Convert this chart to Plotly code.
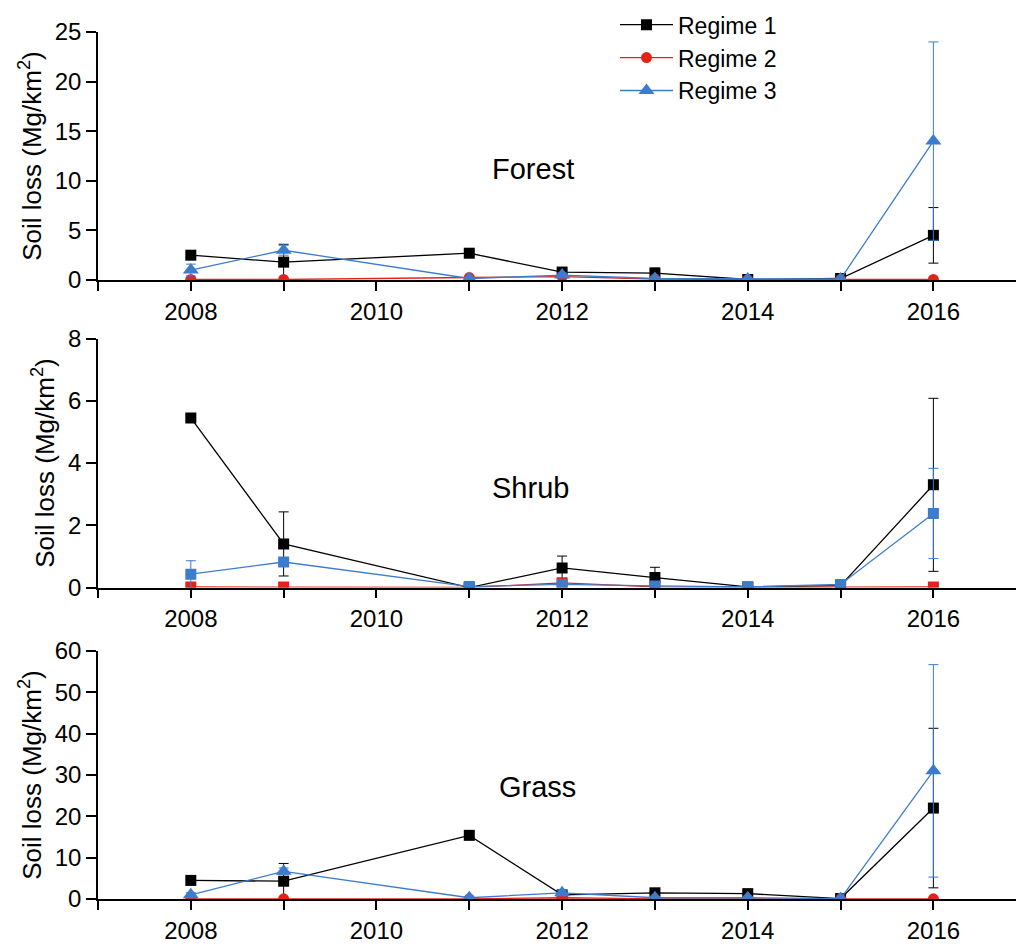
import plotly.graph_objects as go

years = [2008, 2009, 2011, 2012, 2013, 2014, 2015, 2016]
series_names = ["Regime 1", "Regime 2", "Regime 3"]

# Forest
forest_r1 = [2.5, 1.8, 2.7, 0.8, 0.7, 0.05, 0.15, 4.5]
forest_r1_err = [0.2, 1.8, 0.2, 0.15, 0.5, 0.05, 0.1, 2.8]
forest_r2 = [0.05, 0.05, 0.25, 0.35, 0.1, 0.03, 0.05, 0.05]
forest_r2_err = [0, 0, 0, 0, 0, 0, 0, 0]
forest_r3 = [1.0, 3.0, 0.15, 0.5, 0.15, 0.1, 0.1, 14.0]
forest_r3_err = [0.6, 0.5, 0.1, 0.2, 0.1, 0.05, 0.1, 10.0]

# Shrub
shrub_r1 = [5.45, 1.4, 0.0, 0.63, 0.32, 0.02, 0.06, 3.3]
shrub_r1_err = [0.08, 1.03, 0.0, 0.38, 0.33, 0.0, 0.03, 2.78]
shrub_r2 = [0.02, 0.02, 0.0, 0.15, 0.02, 0.0, 0.0, 0.02]
shrub_r2_err = [0, 0, 0, 0, 0, 0, 0, 0]
shrub_r3 = [0.43, 0.82, 0.03, 0.1, 0.05, 0.02, 0.1, 2.38]
shrub_r3_err = [0.43, 0.1, 0.0, 0.05, 0.0, 0.0, 0.0, 1.45]

# Grass
grass_r1 = [4.5, 4.3, 15.4, 1.0, 1.5, 1.3, 0.1, 22.0]
grass_r1_err = [0.3, 4.3, 0.3, 0.5, 0.3, 0.3, 0.1, 19.3]
grass_r2 = [0.05, 0.05, 0.05, 0.3, 0.05, 0.05, 0.05, 0.05]
grass_r2_err = [0, 0, 0, 0, 0, 0, 0, 0]
grass_r3 = [1.0, 6.7, 0.3, 1.5, 0.3, 0.3, 0.1, 31.0]
grass_r3_err = [0.5, 0.8, 0.2, 0.5, 0.2, 0.2, 0.1, 25.7]

panel_names = ["Forest", "Shrub", "Grass"]
y_ranges = [[0, 25], [0, 8], [0, 60]]
y_ticks = [[0, 5, 10, 15, 20, 25], [0, 2, 4, 6, 8], [0, 10, 20, 30, 40, 50, 60]]
x_tick_vals = [2008, 2010, 2012, 2014, 2016]
x_tick_text = ["2008", "2010", "2012", "2014", "2016"]

colors = ["#000000", "#e3231b", "#3c7ccc"]
FONT = "Liberation Sans, Arial, sans-serif"

panels = [
    [(forest_r1, forest_r1_err), (forest_r2, forest_r2_err), (forest_r3, forest_r3_err)],
    [(shrub_r1, shrub_r1_err), (shrub_r2, shrub_r2_err), (shrub_r3, shrub_r3_err)],
    [(grass_r1, grass_r1_err), (grass_r2, grass_r2_err), (grass_r3, grass_r3_err)],
]
symbols_by_panel = [
    ["square", "circle", "triangle-up"],
    ["square", "square", "square"],
    ["square", "circle", "triangle-up"],
]
sizes = {"square": 11, "circle": 11, "triangle-up": 14}

fig = go.Figure()
for p, panel in enumerate(panels):
    ax = "" if p == 0 else str(p + 1)
    for s, (vals, errs) in enumerate(panel):
        sym = symbols_by_panel[p][s]
        fig.add_trace(go.Scatter(
            x=years, y=vals,
            mode="lines+markers",
            name=series_names[s],
            showlegend=(p == 0),
            line=dict(color=colors[s], width=1.3),
            marker=dict(symbol=sym, size=sizes[sym], color=colors[s]),
            error_y=dict(type="data", array=errs, visible=True,
                         color=colors[s], thickness=1, width=5),
            xaxis="x" + ax, yaxis="y" + ax,
        ))

# layout geometry
H, W = 944, 1016
t, b = 32, 38
ph = H - t - b
def frac(px):
    return (H - b - px) / ph

domains = [[frac(282), 1.0], [frac(592), frac(341)], [0.0, frac(656)]]
label_pos = [(533, 170), (530, 492), (537, 793)]

layout = dict(
    width=W, height=H,
    margin=dict(l=98, r=0, t=t, b=b),
    plot_bgcolor="white", paper_bgcolor="white",
    font=dict(family=FONT, color="black"),
    showlegend=True,
    legend=dict(x=(615 - 98) / 918, y=frac(3), xanchor="left", yanchor="top",
                font=dict(size=23, family=FONT), bgcolor="rgba(0,0,0,0)",
                tracegroupgap=0, itemwidth=53),
)
annotations = []
for p in range(3):
    ax = "" if p == 0 else str(p + 1)
    layout["xaxis" + ax] = dict(
        domain=[0, 1], anchor="y" + ax, range=[2007, 2016.89],
        tickvals=x_tick_vals, ticktext=x_tick_text,
        ticks="outside", ticklen=9, tickwidth=1.5, tickcolor="black",
        minor=dict(dtick=1, tick0=2008, ticks="outside", ticklen=9,
                   tickwidth=1.5, tickcolor="black", showgrid=False),
        showline=True, linecolor="black", linewidth=1.5,
        showgrid=False, zeroline=False,
        tickfont=dict(size=24, family=FONT),
    )
    layout["yaxis" + ax] = dict(
        domain=domains[p], anchor="x" + ax, range=y_ranges[p],
        tickvals=y_ticks[p],
        ticks="outside", ticklen=10, tickwidth=1.5, tickcolor="black",
        showline=True, linecolor="black", linewidth=1.5,
        showgrid=False, zeroline=False,
        tickfont=dict(size=24, family=FONT),
        title=dict(text="Soil loss (Mg/km<sup>2</sup>)", font=dict(size=26, family=FONT), standoff=6),
        automargin=False,
    )
    lx, ly = label_pos[p]
    annotations.append(dict(
        text=panel_names[p], x=(lx - 98) / 918, y=frac(ly),
        xref="paper", yref="paper", showarrow=False,
        font=dict(size=29, family=FONT), xanchor="center", yanchor="middle",
    ))
layout["annotations"] = annotations
fig.update_layout(**layout)
fig.write_html("out.html")
